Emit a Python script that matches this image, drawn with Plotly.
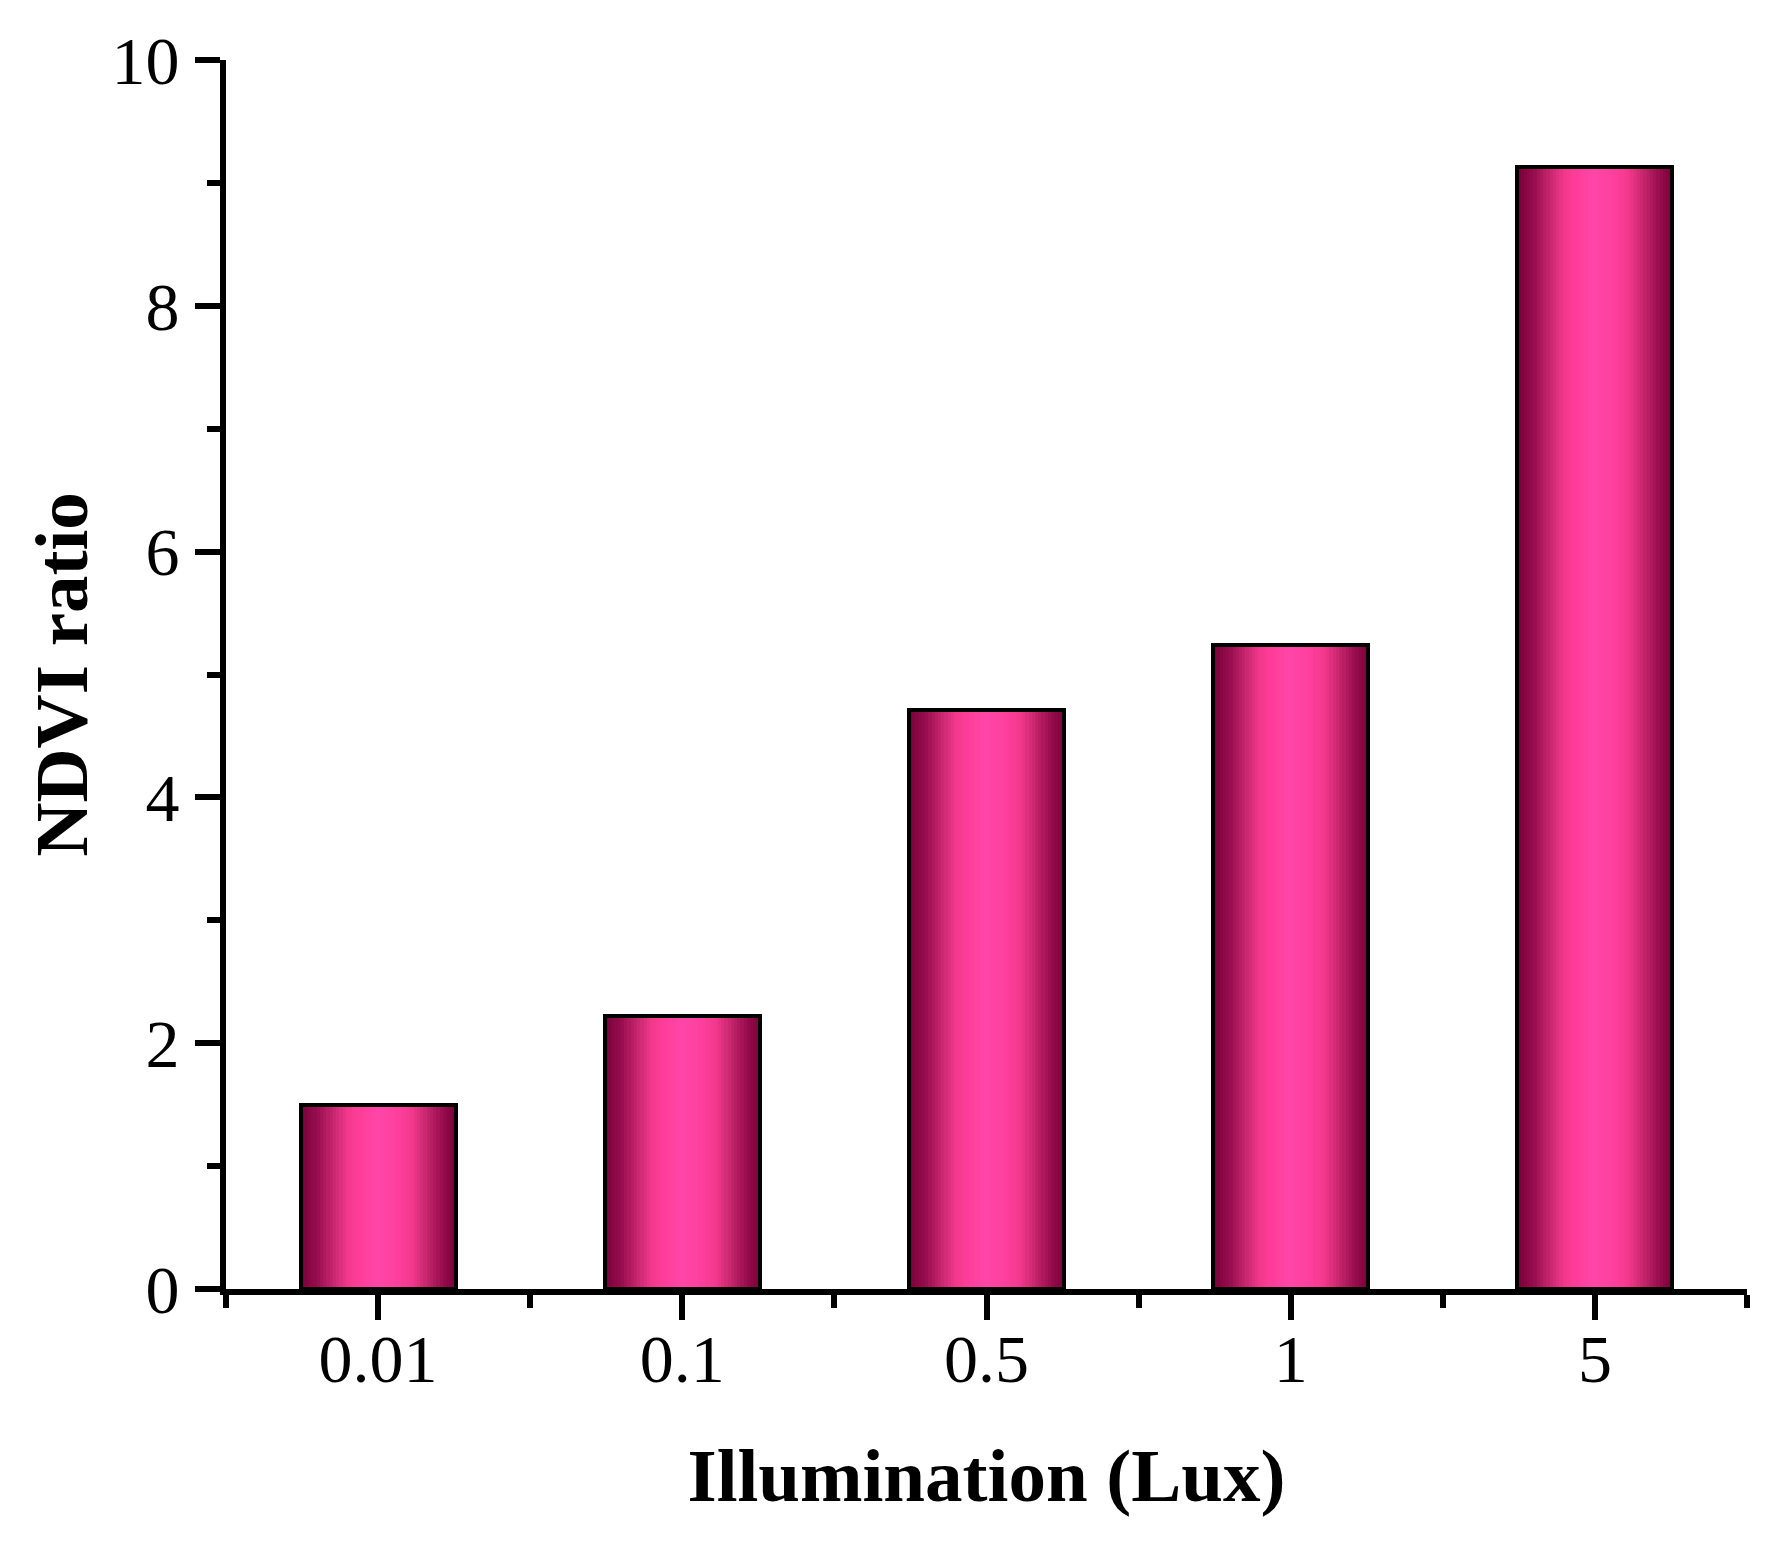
import plotly.graph_objects as go
from plotly.colors import sample_colorscale

# data
illumination_labels = ["0.01", "0.1", "0.5", "1", "5"]
ndvi_ratio = [1.50, 2.22, 4.71, 5.24, 9.13]
y_ticks = [0, 2, 4, 6, 8, 10]

x_pos = list(range(len(illumination_labels)))

# cylinder-like shading across each bar (dark edges, bright pink middle)
shade = [
    [0.00, "#7a0038"],
    [0.10, "#940c4c"],
    [0.20, "#c2246c"],
    [0.30, "#f2388c"],
    [0.38, "#ff3d98"],
    [0.50, "#ff46aa"],
    [0.62, "#ff3f9c"],
    [0.72, "#f2388c"],
    [0.82, "#c2246a"],
    [0.92, "#960c4c"],
    [1.00, "#7a0038"],
]

bar_w = 0.51
n_strips = 48
strip_w = bar_w / n_strips
strip_colors = sample_colorscale(shade, [(i + 0.5) / n_strips for i in range(n_strips)])

fig = go.Figure()

for i, c in enumerate(strip_colors):
    fig.add_trace(go.Bar(
        x=x_pos,
        y=ndvi_ratio,
        width=strip_w,
        offset=-bar_w / 2 + i * strip_w,
        marker=dict(color=c, line=dict(width=0)),
        showlegend=False,
        hoverinfo="skip",
    ))

# black outline on top
fig.add_trace(go.Bar(
    x=x_pos,
    y=ndvi_ratio,
    width=bar_w,
    offset=-bar_w / 2,
    marker=dict(color="rgba(0,0,0,0)", line=dict(color="black", width=4)),
    showlegend=False,
    hovertemplate="%{y:.2f}<extra></extra>",
))

tick_font = dict(family="Liberation Serif, Times New Roman, serif", size=68, color="black")
title_font = dict(family="Liberation Serif, Times New Roman, serif", size=75, color="black")

fig.update_layout(
    width=1781,
    height=1548,
    barmode="overlay",
    bargap=0,
    plot_bgcolor="white",
    paper_bgcolor="white",
    margin=dict(l=218, r=42, t=52, b=267),
    xaxis=dict(
        range=[-0.5, 4.5],
        tickmode="array",
        tickvals=x_pos,
        ticktext=illumination_labels,
        ticks="outside",
        ticklen=25,
        tickwidth=6,
        tickcolor="black",
        minor=dict(tickmode="linear", tick0=0.5, dtick=1, ticks="outside",
                   ticklen=13, tickwidth=6, tickcolor="black"),
        showline=True,
        linewidth=6,
        linecolor="black",
        showgrid=False,
        zeroline=False,
        tickfont=tick_font,
        ticklabelstandoff=-20,
        title=dict(text="<b>Illumination (Lux)</b>", font=title_font, standoff=55),
    ),
    yaxis=dict(
        range=[0, 10],
        tickmode="array",
        tickvals=y_ticks,
        ticks="outside",
        ticklen=25,
        tickwidth=6,
        tickcolor="black",
        minor=dict(tickmode="linear", tick0=1, dtick=2, ticks="outside",
                   ticklen=13, tickwidth=6, tickcolor="black"),
        showline=True,
        linewidth=6,
        linecolor="black",
        showgrid=False,
        zeroline=False,
        tickfont=tick_font,
        ticklabelstandoff=2,
        title=dict(text="<b>NDVI ratio</b>", font=title_font, standoff=1),
    ),
)

fig.write_html("out.html")
